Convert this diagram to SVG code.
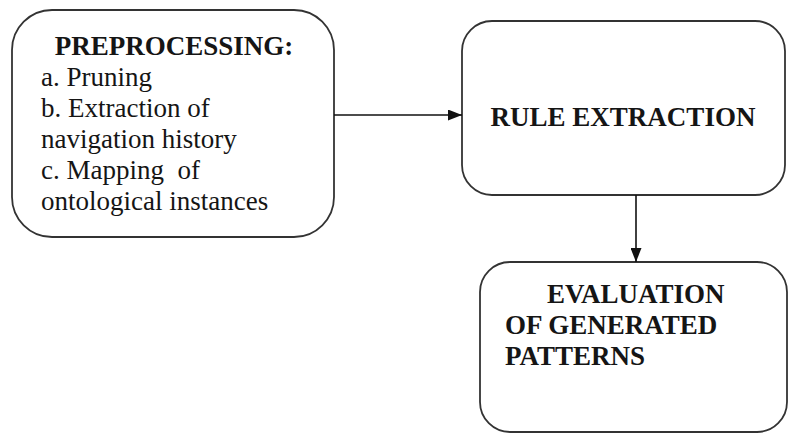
<svg xmlns="http://www.w3.org/2000/svg" width="789" height="434" viewBox="0 0 789 434">
<style>
.box{fill:#ffffff;stroke:#333333;stroke-width:1.8}
.t{font-family:'Liberation Serif','DejaVu Serif',serif;font-size:27px;fill:#151515}
.b{font-weight:bold}
.c{stroke:#111111;stroke-width:1.6;fill:none}
</style>
<defs>
<marker id="ah" markerWidth="14" markerHeight="11" refX="14" refY="5.5" orient="auto" markerUnits="userSpaceOnUse">
<path d="M0,0 L14,5.5 L0,11 Z" fill="#111111"/>
</marker>
</defs>
<rect width="789" height="434" fill="#ffffff"/>
<g id="preprocessing">
<rect class="box" x="12" y="10" width="322" height="227" rx="40" ry="40"/>
<text class="t b" x="174" y="55" text-anchor="middle">PREPROCESSING:</text>
<text class="t" x="41" y="86">a. Pruning</text>
<text class="t" x="41" y="117">b. Extraction of</text>
<text class="t" x="41" y="148">navigation history</text>
<text class="t" x="41" y="179" xml:space="preserve">c. Mapping  of</text>
<text class="t" x="41" y="210">ontological instances</text>
</g>
<g id="rule-extraction">
<rect class="box" x="462" y="21" width="323" height="174" rx="30" ry="30"/>
<text class="t b" x="623" y="126" text-anchor="middle">RULE EXTRACTION</text>
</g>
<g id="evaluation">
<rect class="box" x="480" y="262" width="307" height="170" rx="30" ry="30"/>
<text class="t b" x="547" y="303">EVALUATION</text>
<text class="t b" x="505" y="334">OF GENERATED</text>
<text class="t b" x="505" y="365">PATTERNS</text>
</g>
<g id="connectors">
<line class="c" x1="334" y1="115" x2="462" y2="115" marker-end="url(#ah)"/>
<line class="c" x1="636" y1="195" x2="636" y2="262" marker-end="url(#ah)"/>
</g>
</svg>
